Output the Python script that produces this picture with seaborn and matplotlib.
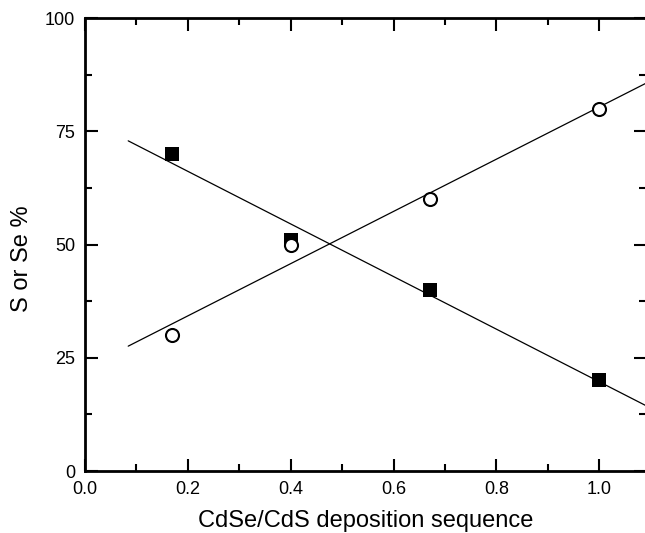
import numpy as np
import pandas as pd
import matplotlib
matplotlib.use('Agg')
import matplotlib.pyplot as plt
import matplotlib.ticker as tck
import seaborn as sns

# data
seq = [0.17, 0.40, 0.67, 1.0]
s_pct = [70, 51, 40, 20]    # filled squares
se_pct = [30, 50, 60, 80]   # open circles

sns.set_style("ticks")
plt.rcParams['font.family'] = ['Liberation Sans', 'DejaVu Sans']
plt.rcParams.update({'text.color': 'black', 'axes.labelcolor': 'black',
                     'xtick.color': 'black', 'ytick.color': 'black',
                     'axes.edgecolor': 'black'})

fig = plt.figure(figsize=(6.45, 5.33), dpi=100)
ax = fig.add_axes([0.1318, 0.1163, 0.8700, 0.8499])

# linear fits drawn across the range
xfit = np.array([0.084, 1.10])
for y in (s_pct, se_pct):
    k, b = np.polyfit(seq, y, 1)
    sns.lineplot(x=xfit, y=k * xfit + b, color='black', lw=0.9, ax=ax)

sns.scatterplot(x=seq, y=s_pct, marker='s', s=100, color='black',
                edgecolor='black', linewidth=0, ax=ax, zorder=3)
sns.scatterplot(x=seq, y=se_pct, marker='o', s=88, facecolor='white',
                edgecolor='black', linewidth=1.5, ax=ax, zorder=3)

ax.set_xlim(0, 1.0 / 515 * 562)
ax.set_ylim(0, 100)
ax.xaxis.set_major_locator(tck.MultipleLocator(0.2))
ax.xaxis.set_minor_locator(tck.MultipleLocator(0.1))
ax.yaxis.set_major_locator(tck.MultipleLocator(25))
ax.yaxis.set_minor_locator(tck.MultipleLocator(12.5))
ax.xaxis.set_major_formatter(tck.FormatStrFormatter('%.1f'))
ax.tick_params(which='both', direction='in', top=True, right=True,
               width=1.5, labelsize=13, pad=7)
ax.tick_params(which='major', length=9)
ax.tick_params(which='minor', length=5)
for sp in ax.spines.values():
    sp.set_linewidth(2)

ax.set_xlabel("CdSe/CdS deposition sequence", fontsize=17, labelpad=9)
ax.set_ylabel("S or Se %", fontsize=17)
ax.yaxis.set_label_coords(-0.093, 0.468)

fig.savefig("out.png", dpi=100)
